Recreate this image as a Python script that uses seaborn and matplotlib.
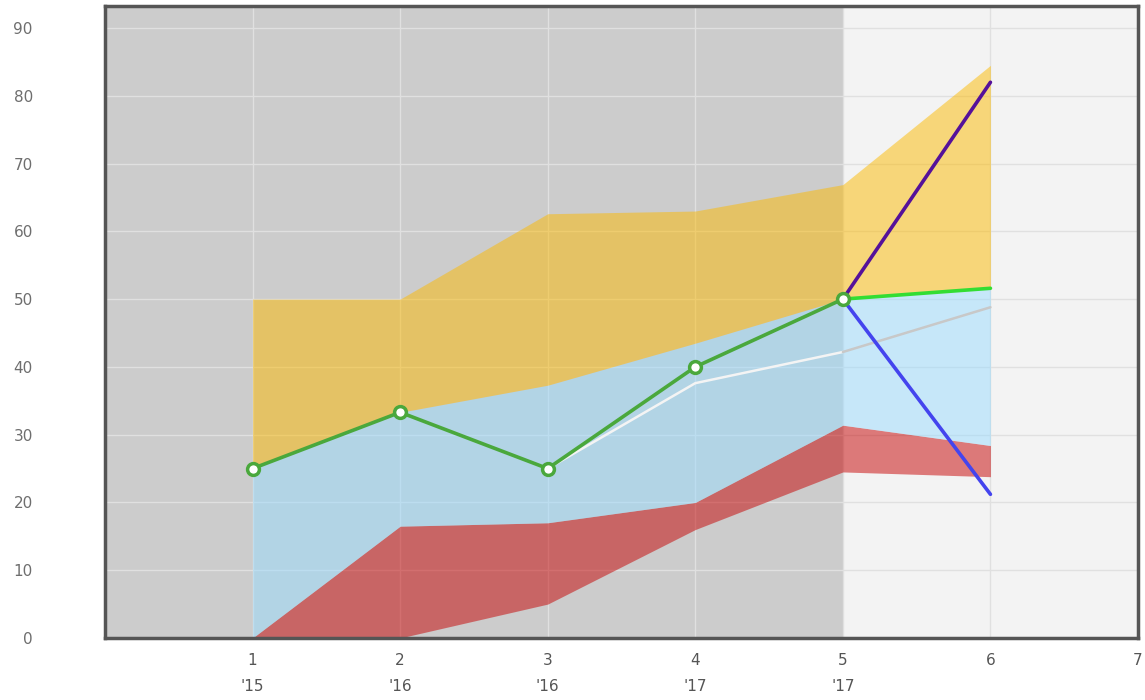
import numpy as np
import pandas as pd
import matplotlib
matplotlib.use("Agg")
import matplotlib.pyplot as plt
import seaborn as sns

# Data
x = [1, 2, 3, 4, 5, 6]
x_ticks = [1, 2, 3, 4, 5, 6, 7]
x_years = ["'15", "'16", "'16", "'17", "'17", "", ""]

red_low = [0, 0, 5, 16, 24.5, 23.8]
red_high = [0, 16.5, 17, 20, 31.4, 28.4]
blue_high = [25, 33.3, 37.3, 43.5, 50, 51.6]
yellow_high = [50, 50, 62.6, 63, 66.9, 84.5]

actual_x = [1, 2, 3, 4, 5]
actual_y = [25, 33.3, 25, 40, 50]

trend_x = [3, 4, 5]
trend_y = [25, 37.6, 42.2]
trend_proj_x = [5, 6]
trend_proj_y = [42.2, 48.8]

proj_x = [5, 6]
proj_mid = [50, 51.6]
proj_high = [50, 82]
proj_low = [50, 21.2]

# Style
sns.set_style("white")
plt.rcParams["font.family"] = ["DejaVu Sans"]

fig = plt.figure(figsize=(11.45, 7), dpi=100)
ax = fig.add_axes([0.0917, 0.0886, 0.9022, 0.9028])

ax.set_xlim(0, 7)
ax.set_ylim(0, 93.25)

# history / forecast backgrounds
ax.axvspan(0, 5, color="#cccccc", zorder=0, lw=0)
ax.axvspan(5, 7, color="#f3f3f3", zorder=0, lw=0)

ax.set_axisbelow(True)
ax.grid(True, color="#e0e0e0", lw=1)

# bands
ax.fill_between(x, red_low, red_high, color="#c60000", alpha=0.5, lw=0, zorder=1)
ax.fill_between(x, red_high, blue_high, color="#9adcff", alpha=0.5, lw=0, zorder=1)
ax.fill_between(x, blue_high, yellow_high, color="#fcba00", alpha=0.5, lw=0, zorder=1)

# lines
df_trend = pd.DataFrame({"x": trend_x, "y": trend_y})
sns.lineplot(data=df_trend, x="x", y="y", color="#f4f4f4", lw=1.8, ax=ax, zorder=2)
df_trend_p = pd.DataFrame({"x": trend_proj_x, "y": trend_proj_y})
sns.lineplot(data=df_trend_p, x="x", y="y", color="#c8c8c8", lw=1.8, ax=ax, zorder=2)

for ys, col in [(proj_high, "#55119a"), (proj_low, "#4444ee"), (proj_mid, "#33dd33")]:
    d = pd.DataFrame({"x": proj_x, "y": ys})
    sns.lineplot(data=d, x="x", y="y", color=col, lw=2.6, ax=ax, zorder=3)

df_act = pd.DataFrame({"x": actual_x, "y": actual_y})
sns.lineplot(data=df_act, x="x", y="y", color="#4aa83c", lw=2.6, marker="o",
             markersize=8.5, markerfacecolor="white", markeredgecolor="#4aa83c",
             markeredgewidth=2.5, ax=ax, zorder=4)

# axes styling
ax.set_xlabel("")
ax.set_ylabel("")
ax.set_yticks(range(0, 91, 10))
ax.set_xticks(x_ticks)
ax.set_xticklabels([f"{t}\n{yr}" for t, yr in zip(x_ticks, x_years)], linespacing=1.9)
ax.tick_params(axis="y", length=0, pad=52, labelsize=11, labelcolor="#6e6e6e")
ax.tick_params(axis="x", length=0, pad=11, labelsize=11, labelcolor="#555555")
for s in ax.spines.values():
    s.set_visible(True)
    s.set_color("#555555")
    s.set_linewidth(2.5)

plt.savefig("out.png", dpi=100)
plt.close()
